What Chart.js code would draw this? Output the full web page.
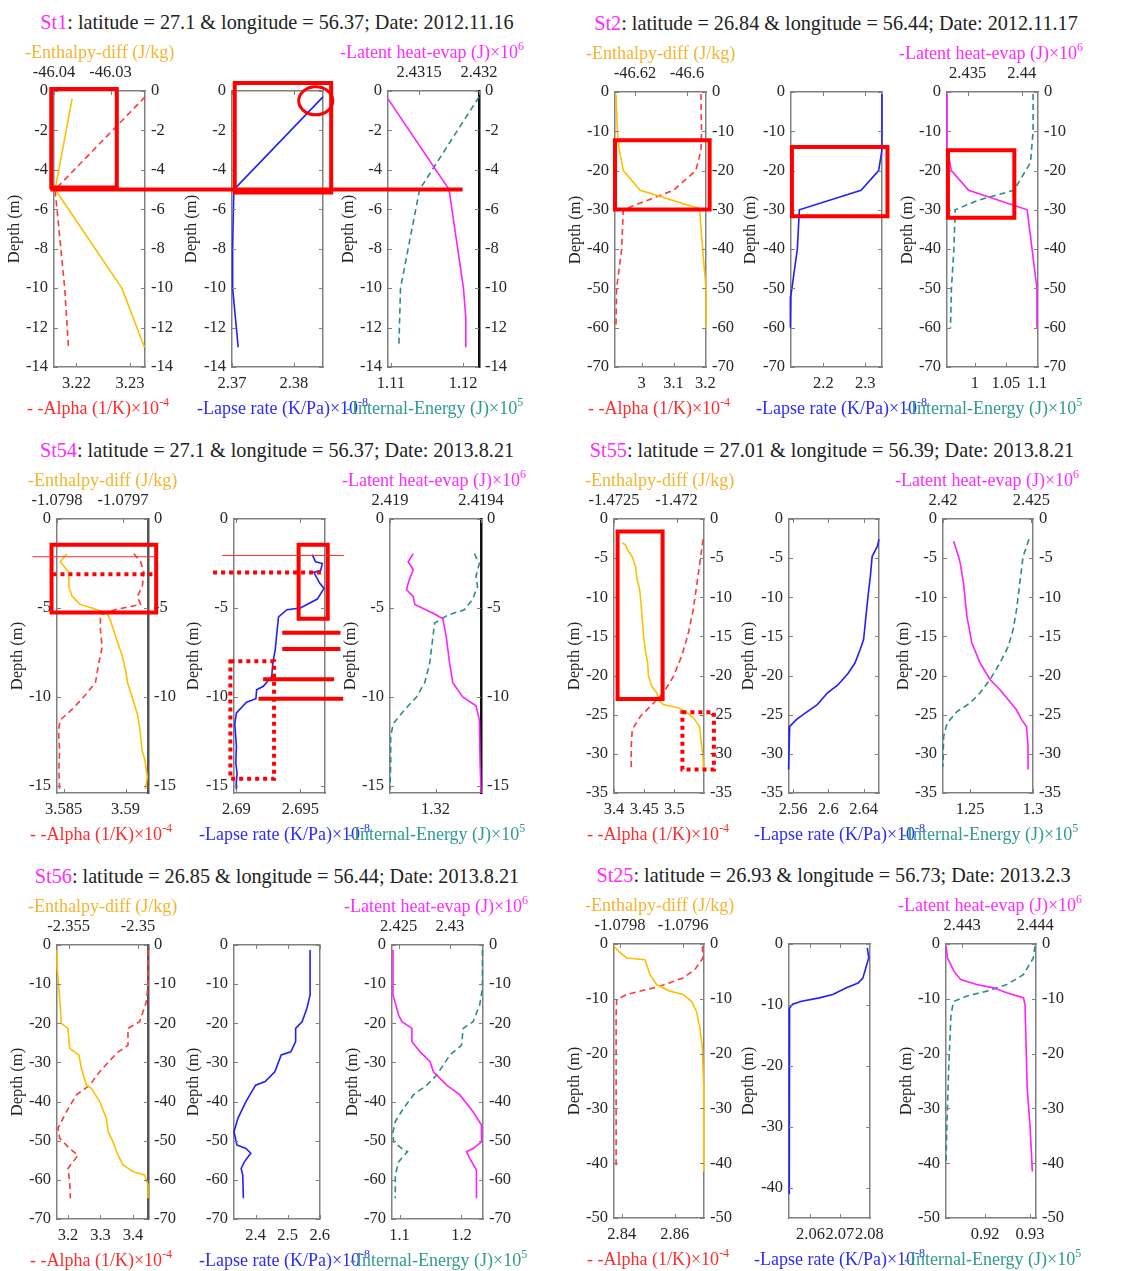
<!DOCTYPE html>
<html><head><meta charset="utf-8">
<script src="https://cdn.jsdelivr.net/npm/chart.js"></script>
<title>Station profiles</title>
<style>
body { margin: 0; width: 1129px; height: 1271px; position: relative; overflow: hidden; background: #fff;
  font-family: "Liberation Serif", "Times New Roman", serif; }
canvas { position: absolute; }
.t { position: absolute; white-space: nowrap; font-size: 18px; line-height: 20px; }
.sup { font-size: 12px; line-height: 0; position: relative; top: -8px; }
.title { font-size: 20.2px; line-height: 22px; color: #222; transform: translateX(-50%); }
.depth { position: absolute; white-space: nowrap; font-size: 16.5px; line-height: 18px; color: #222;
  transform: translate(-50%, -50%) rotate(-90deg); }
</style>
</head>
<body>
<script>
// ---- data: [value, depth] pairs ----
// St1
const s1Enth = [[-46.0368,-0.4],[-46.0398,-5],[-46.0280,-10],[-46.0240,-13]];
const s1Alpha = [[3.2328,-0.3],[3.2160,-5],[3.2178,-10],[3.2185,-13]];
const s1Lapse = [[2.3847,-0.3],[2.3703,-5],[2.3701,-8],[2.3701,-10],[2.3710,-13]];
const s1Latent = [[2.43124,-0.4],[2.43175,-5],[2.43187,-10],[2.43189,-11.5],[2.43189,-13]];
const s1Internal = [[1.1222,-0.3],[1.11397,-5],[1.11133,-10],[1.1111,-13]];
// St2
const s2Enth = [[-46.6273,-0.5],[-46.6268,-10],[-46.626,-15],[-46.6245,-20],[-46.618,-25],[-46.5952,-29.7],[-46.594,-40],[-46.5927,-50],[-46.5927,-60]];
const s2Alpha = [[3.186,-0.5],[3.188,-10],[3.186,-15],[3.17,-20],[3.1,-25],[3.004,-28],[2.942,-30],[2.937,-40],[2.921,-50],[2.919,-60]];
const s2Lapse = [[2.340,-0.5],[2.340,-10],[2.3395,-15],[2.332,-20],[2.29,-25],[2.1425,-30],[2.1376,-40],[2.122,-52],[2.121,-60]];
const s2Latent = [[2.4331,-0.5],[2.4331,-14],[2.4335,-20],[2.4351,-25],[2.4405,-30],[2.4414,-50],[2.4414,-60]];
const s2Internal = [[1.0937,-0.5],[1.0937,-10],[1.0895,-18],[1.063,-25],[1.0047,-27.6],[0.9685,-30],[0.9665,-40],[0.9625,-50],[0.961,-60]];
// St54
const s54Enth = [[-1.079785,-1.95],[-1.079795,-2.4],[-1.079782,-3.0],[-1.079782,-3.8],[-1.079777,-4.35],[-1.079765,-4.8],[-1.079747,-5.0],[-1.079724,-5.3],[-1.079719,-5.7],[-1.079711,-6.6],[-1.079701,-7.7],[-1.079696,-8.5],[-1.079693,-9.2],[-1.079686,-10.0],[-1.079678,-11.0],[-1.079674,-11.9],[-1.079671,-13.0],[-1.079667,-13.5],[-1.079663,-14.5],[-1.079666,-15.2]];
const s54Alpha = [[3.59067,-1.95],[3.59122,-2.4],[3.59148,-3.0],[3.59135,-3.8],[3.59095,-4.35],[3.59122,-4.8],[3.58914,-5.1],[3.58797,-5.4],[3.58797,-6.2],[3.58811,-7.2],[3.58784,-8.1],[3.58757,-9.2],[3.58662,-10.0],[3.58568,-10.7],[3.58473,-11.3],[3.58459,-11.9],[3.58468,-13.0],[3.58462,-14.1],[3.58468,-15.2]];
const s54Lapse = [[2.69592,-2.0],[2.69618,-2.4],[2.69671,-2.5],[2.69658,-2.9],[2.69605,-3.0],[2.6965,-3.6],[2.69684,-3.9],[2.69632,-4.5],[2.695,-5.0],[2.69395,-5.1],[2.69329,-5.5],[2.69316,-6.4],[2.69303,-7.35],[2.69284,-8.1],[2.69276,-8.85],[2.6921,-9.4],[2.69158,-9.6],[2.69152,-10.1],[2.69079,-10.3],[2.69,-10.9],[2.68987,-11.5],[2.69,-12.8],[2.68995,-13.7],[2.69005,-14.3],[2.68998,-14.9],[2.69,-15.2]];
const s54Latent = [[2.419102,-1.95],[2.41908,-2.4],[2.419102,-2.85],[2.41908,-3.6],[2.419073,-3.98],[2.419102,-4.35],[2.419109,-4.8],[2.419189,-5.3],[2.419232,-5.6],[2.419247,-6.6],[2.419262,-8.1],[2.419276,-9.2],[2.41932,-10.0],[2.419378,-10.5],[2.419393,-11.3],[2.419396,-13.7],[2.4194,-15.4]];
const s54Internal = [[1.32555,-1.95],[1.32626,-2.5],[1.32579,-3.2],[1.3260,-3.8],[1.32531,-4.5],[1.32413,-5.1],[1.32177,-5.4],[1.31988,-5.85],[1.31964,-6.6],[1.31917,-8.1],[1.31846,-9.2],[1.31729,-10.0],[1.31563,-10.7],[1.31397,-11.5],[1.3136,-12.2],[1.3136,-13.7],[1.3135,-15.2]];
// St55
const s55Enth = [[-1.472434,-3.07],[-1.472408,-3.3],[-1.472394,-3.9],[-1.472355,-4.8],[-1.472329,-6.0],[-1.472315,-7.75],[-1.472295,-9.0],[-1.472284,-10.7],[-1.472276,-12.4],[-1.472263,-15.0],[-1.47225,-16.7],[-1.472231,-18.4],[-1.472224,-20.1],[-1.472197,-21.4],[-1.472157,-22.2],[-1.472145,-23.1],[-1.472105,-23.7],[-1.471987,-24.1],[-1.471908,-24.8],[-1.471855,-25.6],[-1.471815,-26.5],[-1.471802,-28.6],[-1.471789,-30.3],[-1.471784,-32.0]];
const s55Alpha = [[3.5475,-2.6],[3.5421,-5.6],[3.5367,-8.6],[3.5311,-11.6],[3.523,-14.6],[3.5121,-17.5],[3.4984,-20.1],[3.482,-22.2],[3.4656,-23.5],[3.4438,-25.2],[3.4302,-26.9],[3.4285,-29.0],[3.4285,-32.0]];
const s55Lapse = [[2.6575,-2.6],[2.6556,-3.5],[2.6497,-4.8],[2.6477,-7.3],[2.645,-9.9],[2.6427,-12.4],[2.64,-15.4],[2.636,-16.7],[2.6302,-18.4],[2.6225,-19.7],[2.6108,-21.2],[2.5991,-22.2],[2.5874,-23.7],[2.5737,-24.8],[2.564,-25.6],[2.5561,-26.5],[2.5555,-29.0],[2.5548,-32.0]];
const s55Latent = [[2.4206,-2.85],[2.42088,-4.8],[2.42097,-5.6],[2.42116,-8.2],[2.42135,-12.4],[2.42163,-15.8],[2.4221,-18.4],[2.42266,-20.5],[2.42322,-21.8],[2.42369,-23.1],[2.42416,-24.4],[2.42444,-25.6],[2.42472,-26.5],[2.42481,-29.0],[2.42481,-32.0]];
const s55Internal = [[1.2968,-2.6],[1.2921,-4.8],[1.2895,-8.2],[1.2869,-11.6],[1.2842,-14.1],[1.2803,-16.3],[1.2737,-18.4],[1.2658,-20.5],[1.2579,-22.2],[1.25,-23.5],[1.2395,-24.6],[1.2316,-26.1],[1.2289,-27.8],[1.2284,-31.6]];
// St56
const s56Enth = [[-2.35584,-1.3],[-2.35584,-5.1],[-2.3557,-11.1],[-2.35553,-20.0],[-2.35505,-21.3],[-2.35493,-26.4],[-2.35426,-28.1],[-2.35408,-31.5],[-2.35372,-35.8],[-2.35336,-36.6],[-2.35276,-40.0],[-2.35228,-44.3],[-2.35216,-47.7],[-2.3518,-50.3],[-2.35144,-53.7],[-2.35108,-56.2],[-2.35036,-57.9],[-2.34952,-58.8],[-2.34928,-61.3],[-2.34928,-64.7]];
const s56Alpha = [[3.4462,-1.3],[3.4462,-10.2],[3.4412,-14.5],[3.4206,-19.6],[3.3846,-21.3],[3.3846,-25.6],[3.3489,-27.7],[3.2975,-32.4],[3.2668,-35.8],[3.2258,-38.3],[3.1951,-42.6],[3.1692,-46.8],[3.1745,-49.4],[3.2052,-52.0],[3.2308,-53.7],[3.2,-57.1],[3.2052,-60.5],[3.2074,-64.7]];
const s56Lapse = [[2.57,-1.3],[2.57,-12.8],[2.56,-16.2],[2.545,-19.6],[2.525,-21.3],[2.525,-24.7],[2.51,-27.3],[2.48,-28.1],[2.46,-32.4],[2.43,-34.9],[2.4,-35.8],[2.37,-40.0],[2.3448,-44.3],[2.3327,-47.7],[2.3417,-51.1],[2.37,-52.0],[2.385,-53.2],[2.3649,-55.4],[2.355,-57.1],[2.36,-58.8],[2.3619,-64.7]];
const s56Latent = [[2.42446,-1.3],[2.42446,-12.8],[2.425,-17.9],[2.42533,-19.6],[2.4263,-21.3],[2.4263,-24.7],[2.4271,-27.3],[2.42807,-29.8],[2.42839,-32.4],[2.42968,-35.8],[2.43097,-38.3],[2.43225,-42.6],[2.43307,-46.0],[2.43307,-50.3],[2.43225,-52.0],[2.43162,-52.8],[2.43193,-54.5],[2.43258,-57.5],[2.43258,-64.7]];
const s56Internal = [[1.2338,-1.3],[1.2338,-11.1],[1.2295,-15.3],[1.2188,-19.6],[1.2027,-21.3],[1.2002,-25.6],[1.1814,-28.1],[1.1706,-30.7],[1.16,-33.2],[1.144,-35.8],[1.1225,-38.3],[1.1064,-41.7],[1.0931,-45.1],[1.0894,-47.7],[1.0904,-50.3],[1.1039,-52.0],[1.1128,-52.8],[1.0984,-55.4],[1.0931,-58.8],[1.0931,-64.7]];
// St25
const s25Enth = [[-1.079819,-0.4],[-1.079805,-1.3],[-1.079779,-2.55],[-1.079721,-2.86],[-1.079705,-5.6],[-1.079684,-7.4],[-1.079642,-8.6],[-1.0796,-9.2],[-1.079573,-10.5],[-1.079558,-12.3],[-1.079547,-15.3],[-1.079539,-19.0],[-1.079535,-26.3],[-1.079535,-41.5]];
const s25Alpha = [[2.8704,-0.4],[2.8706,-2.55],[2.8675,-4.7],[2.8631,-6.2],[2.8544,-7.7],[2.8419,-9.2],[2.8381,-10.2],[2.8379,-12.9],[2.8379,-40.9]];
const s25Lapse = [[2.0793,-0.65],[2.0798,-2.3],[2.0788,-3.9],[2.0778,-5.6],[2.0762,-6.4],[2.0722,-7.2],[2.0676,-8.3],[2.063,-8.85],[2.057,-9.4],[2.0539,-9.9],[2.0529,-10.5],[2.0529,-23.6],[2.0527,-41.1]];
const s25Latent = [[2.44278,-0.4],[2.4428,-2.55],[2.44289,-5.0],[2.44298,-6.5],[2.4432,-7.4],[2.44343,-8.0],[2.44361,-8.9],[2.44384,-9.85],[2.44386,-11.1],[2.44389,-26.3],[2.44393,-33.6],[2.44396,-41.5]];
const s25Internal = [[0.93111,-0.4],[0.93073,-2.55],[0.92851,-5.6],[0.92482,-7.4],[0.92038,-8.6],[0.91593,-9.5],[0.91296,-10.5],[0.91238,-12.9],[0.91184,-23.2],[0.9115,-32.4],[0.91127,-39.7]];

// ---- axis ranges [min, max] and tick values ----
const s1DepthAx = [-14, 0], s1DepthTk = [0, -2, -4, -6, -8, -10, -12, -14];
const s1EnthAx = [-46.04, -46.0239], s1EnthTk = [-46.04, -46.03];
const s1AlphaAx = [3.2158, 3.2328], s1AlphaTk = [3.22, 3.23];
const s1LapseAx = [2.37, 2.3847], s1LapseTk = [2.37, 2.38];
const s1LatentAx = [2.43124, 2.432], s1LatentTk = [2.4315, 2.432];
const s1InternalAx = [1.1096, 1.1222], s1InternalTk = [1.11, 1.12];

const s2DepthAx = [-70, 0], s2DepthTk = [0, -10, -20, -30, -40, -50, -60, -70];
const s2EnthAx = [-46.6277, -46.5927], s2EnthTk = [-46.62, -46.6];
const s2AlphaAx = [2.916, 3.202], s2AlphaTk = [3, 3.1, 3.2];
const s2LapseAx = [2.1225, 2.34], s2LapseTk = [2.2, 2.3];
const s2LatentAx = [2.4331, 2.4415], s2LatentTk = [2.435, 2.44];
const s2InternalAx = [0.9554, 1.1016], s2InternalTk = [1, 1.05, 1.1];

const s54DepthAx = [-15.4, 0], s54DepthTk = [0, -5, -10, -15];
const s54EnthAx = [-1.0798, -1.079662], s54EnthTk = [-1.0798, -1.0797];
const s54AlphaAx = [3.58447, 3.59181], s54AlphaTk = [3.585, 3.59];
const s54LapseAx = [2.68981, 2.69692], s54LapseTk = [2.69, 2.695];
const s54LatentAx = [2.419, 2.4194], s54LatentTk = [2.419, 2.4194];
const s54InternalAx = [1.3135, 1.3265], s54InternalTk = [1.32];

const s55DepthAx = [-35, 0], s55DepthTk = [0, -5, -10, -15, -20, -25, -30, -35];
const s55EnthAx = [-1.4725, -1.47178], s55EnthTk = [-1.4725, -1.472];
const s55AlphaAx = [3.4, 3.549], s55AlphaTk = [3.4, 3.45, 3.5];
const s55LapseAx = [2.5553, 2.6575], s55LapseTk = [2.56, 2.6, 2.64];
const s55LatentAx = [2.42, 2.42509], s55LatentTk = [2.42, 2.425];
const s55InternalAx = [1.2284, 1.3], s55InternalTk = [1.25, 1.3];

const s56DepthAx = [-70, 0], s56DepthTk = [0, -10, -20, -30, -40, -50, -60, -70];
const s56EnthAx = [-2.35584, -2.34928], s56EnthTk = [-2.355, -2.35];
const s56AlphaAx = [3.1662, 3.4462], s56AlphaTk = [3.2, 3.3, 3.4];
const s56LapseAx = [2.3327, 2.6], s56LapseTk = [2.4, 2.5, 2.6];
const s56LatentAx = [2.42436, 2.43322], s56LatentTk = [2.425, 2.43];
const s56InternalAx = [1.0878, 1.2348], s56InternalTk = [1.1, 1.2];

const s25DepthAx = [-50, 0], s25DepthTk = [0, -10, -20, -30, -40, -50];
const s25LapseDepthAx = [-45, 0], s25LapseDepthTk = [0, -10, -20, -30, -40];
const s25EnthAx = [-1.079819, -1.079534], s25EnthTk = [-1.0798, -1.0796];
const s25AlphaAx = [2.8371, 2.871], s25AlphaTk = [2.84, 2.86];
const s25LapseAx = [2.0527, 2.0803], s25LapseTk = [2.06, 2.07, 2.08];
const s25LatentAx = [2.44278, 2.44401], s25LatentTk = [2.443, 2.444];
const s25InternalAx = [0.91127, 0.93133], s25InternalTk = [0.92, 0.93];

// ---- red highlight marks (panel, fraction of panel width, depth) ----
const s1Notes = [
  {k: 'rect', p: 0, f: [-0.03, 0.69], d: [0.1, -4.9]},
  {k: 'rect', p: 1, f: [0.03, 1.09], d: [0.4, -5.15]},
  {k: 'ring', p: 1, f: 0.92, d: -0.5, rx: 17, ry: 14, lw: 3},
  {k: 'line', p: 0, f: [-0.04, 4.49], d: -5.0}
];
const s2Notes = [
  {k: 'rect', p: 0, f: [0, 1.04], d: [-12.3, -29.9]},
  {k: 'rect', p: 1, f: [0.01, 1.06], d: [-14, -31.6]},
  {k: 'rect', p: 2, f: [0.01, 0.74], d: [-14.8, -32]}
];
const s54Notes = [
  {k: 'rect', p: 0, f: [-0.06, 1.09], d: [-1.45, -5.25]},
  {k: 'line', p: 0, f: [-0.27, 1.07], d: -2.12, lw: 1},
  {k: 'line', p: 0, f: [-0.05, 1.11], d: -3.1, dot: true},
  {k: 'rect', p: 1, f: [0.71, 1.03], d: [-1.45, -5.6]},
  {k: 'line', p: 1, f: [-0.13, 1.21], d: -2.05, lw: 1},
  {k: 'line', p: 1, f: [-0.23, 0.96], d: -3.0, dot: true},
  {k: 'line', p: 1, f: [0.53, 1.17], d: -6.4},
  {k: 'line', p: 1, f: [0.53, 1.17], d: -7.3},
  {k: 'line', p: 1, f: [0.32, 1.10], d: -9.0},
  {k: 'line', p: 1, f: [0.27, 1.20], d: -10.1},
  {k: 'rect', p: 1, f: [-0.04, 0.44], d: [-8.0, -14.6], dot: true}
];
const s55Notes = [
  {k: 'rect', p: 0, f: [0.04, 0.54], d: [-1.6, -23.0]},
  {k: 'rect', p: 0, f: [0.76, 1.11], d: [-24.7, -32], dot: true}
];

const stations = [
  {name: 'St1', info: ': latitude = 27.1 &amp; longitude = 56.37; Date: 2012.11.16',
   depth: [s1DepthAx, s1DepthTk], enth: [s1Enth, s1EnthAx, s1EnthTk], alpha: [s1Alpha, s1AlphaAx, s1AlphaTk],
   lapse: [s1Lapse, s1LapseAx, s1LapseTk], latent: [s1Latent, s1LatentAx, s1LatentTk], internal: [s1Internal, s1InternalAx, s1InternalTk],
   notes: s1Notes, dark: [null, null, '#111']},
  {name: 'St2', info: ': latitude = 26.84 &amp; longitude = 56.44; Date: 2012.11.17',
   depth: [s2DepthAx, s2DepthTk], enth: [s2Enth, s2EnthAx, s2EnthTk], alpha: [s2Alpha, s2AlphaAx, s2AlphaTk],
   lapse: [s2Lapse, s2LapseAx, s2LapseTk], latent: [s2Latent, s2LatentAx, s2LatentTk], internal: [s2Internal, s2InternalAx, s2InternalTk],
   notes: s2Notes, dark: [null, null, null]},
  {name: 'St54', info: ': latitude = 27.1 &amp; longitude = 56.37; Date: 2013.8.21',
   depth: [s54DepthAx, s54DepthTk], enth: [s54Enth, s54EnthAx, s54EnthTk], alpha: [s54Alpha, s54AlphaAx, s54AlphaTk],
   lapse: [s54Lapse, s54LapseAx, s54LapseTk], latent: [s54Latent, s54LatentAx, s54LatentTk], internal: [s54Internal, s54InternalAx, s54InternalTk],
   notes: s54Notes, dark: ['#555', null, '#111']},
  {name: 'St55', info: ': latitude = 27.01 &amp; longitude = 56.39; Date: 2013.8.21',
   depth: [s55DepthAx, s55DepthTk], enth: [s55Enth, s55EnthAx, s55EnthTk], alpha: [s55Alpha, s55AlphaAx, s55AlphaTk],
   lapse: [s55Lapse, s55LapseAx, s55LapseTk], latent: [s55Latent, s55LatentAx, s55LatentTk], internal: [s55Internal, s55InternalAx, s55InternalTk],
   notes: s55Notes, dark: [null, null, null]},
  {name: 'St56', info: ': latitude = 26.85 &amp; longitude = 56.44; Date: 2013.8.21',
   depth: [s56DepthAx, s56DepthTk], enth: [s56Enth, s56EnthAx, s56EnthTk], alpha: [s56Alpha, s56AlphaAx, s56AlphaTk],
   lapse: [s56Lapse, s56LapseAx, s56LapseTk], latent: [s56Latent, s56LatentAx, s56LatentTk], internal: [s56Internal, s56InternalAx, s56InternalTk],
   notes: [], dark: ['#555', null, null]},
  {name: 'St25', info: ': latitude = 26.93 &amp; longitude = 56.73; Date: 2013.2.3',
   depth: [s25DepthAx, s25DepthTk], lapseDepth: [s25LapseDepthAx, s25LapseDepthTk],
   enth: [s25Enth, s25EnthAx, s25EnthTk], alpha: [s25Alpha, s25AlphaAx, s25AlphaTk],
   lapse: [s25Lapse, s25LapseAx, s25LapseTk], latent: [s25Latent, s25LatentAx, s25LatentTk], internal: [s25Internal, s25InternalAx, s25InternalTk],
   notes: [], dark: [null, null, null]}
];

// where each station block sits on the page (plot boxes, title centre)
const layout = [
  {ox: 0, oy: 0, lefts: [54, 232, 388], w: 91, top: 91, h: 276, tx: 277},
  {ox: 560, oy: 0, lefts: [55, 231, 387], w: 91, top: 92, h: 275, tx: 276},
  {ox: 0, oy: 430, lefts: [57, 234, 390], w: 91, top: 89, h: 274, tx: 277},
  {ox: 560, oy: 430, lefts: [54, 229, 383], w: 90, top: 89, h: 274, tx: 272},
  {ox: 0, oy: 855, lefts: [57, 234, 392], w: 91, top: 90, h: 274, tx: 277},
  {ox: 560, oy: 855, lefts: [54, 229, 386], w: 90, top: 89, h: 274, tx: 273.5}
];

const ORANGE = '#FFBF00', RED = '#FF3838', BLUE = '#2020FF', MAGENTA = '#FF20FF', TEAL = '#2A8C8C';
const GRAY = '#808080', TICK = '#262626';
const SERIF = "'Liberation Serif', 'Times New Roman', serif";
Chart.defaults.font.family = SERIF;
const FONT = {family: SERIF, size: 16.5};

function xAxis(pos, ax, tk, size, show) {
  return {
    type: 'linear', axis: 'x', position: pos, min: ax[0], max: ax[1],
    afterBuildTicks: s => { s.ticks = tk.map(v => ({value: v})); },
    afterFit: s => { s.height = size; },
    grid: {display: false, drawTicks: false},
    border: {display: true, color: GRAY, width: 1.5},
    ticks: {display: show, autoSkip: false, maxRotation: 0, minRotation: 0,
      padding: pos === 'top' ? 8 : 7, font: FONT, color: TICK, callback: v => String(v)}
  };
}
function yAxis(pos, ax, tk, size, show, dark) {
  return {
    type: 'linear', axis: 'y', position: pos, min: ax[0], max: ax[1],
    afterBuildTicks: s => { s.ticks = tk.map(v => ({value: v})); },
    afterFit: s => { s.width = size; },
    grid: {display: false, drawTicks: false},
    border: {display: true, color: dark || GRAY, width: dark ? 2.5 : 1.5},
    ticks: {display: show, autoSkip: false, padding: 6, font: FONT, color: TICK, callback: v => String(v)}
  };
}

function line(series, axisId, color, dashed) {
  return {
    data: series.map(p => ({x: p[0], y: p[1]})), xAxisID: axisId, yAxisID: 'yl',
    showLine: true, borderColor: color, borderWidth: 1.6, borderDash: dashed ? [6, 4] : [],
    pointRadius: 0, tension: 0, fill: false, clip: 3
  };
}

function buildPanel(st, L, i) {
  const spec = [
    {top: st.enth, topC: ORANGE, bot: st.alpha, botC: RED, dash: true},
    {top: null, bot: st.lapse, botC: BLUE, dash: false},
    {top: st.latent, topC: MAGENTA, bot: st.internal, botC: TEAL, dash: true}
  ][i];
  const depth = (i === 1 && st.lapseDepth) ? st.lapseDepth : st.depth;
  const padL = 48, padR = i === 1 ? 12 : 48, padT = 34, padB = 34;
  const cv = document.createElement('canvas');
  cv.width = L.w + padL + padR;
  cv.height = L.h + padT + padB;
  cv.style.left = (L.ox + L.lefts[i] - padL) + 'px';
  cv.style.top = (L.oy + L.top - padT) + 'px';
  document.body.appendChild(cv);

  const datasets = [];
  if (spec.top) datasets.push(line(spec.top[0], 'xt', spec.topC, false));
  datasets.push(line(spec.bot[0], 'xb', spec.botC, spec.dash));

  const topAx = spec.top ? spec.top : spec.bot;
  const ticksIn = {
    id: 'ticksIn',
    afterDraw(c) {
      const ctx = c.ctx, a = c.chartArea, yl = c.scales.yl, xb = c.scales.xb, xt = c.scales.xt;
      ctx.save();
      ctx.strokeStyle = GRAY; ctx.lineWidth = 1;
      ctx.beginPath();
      depth[1].forEach(v => {
        const y = Math.round(yl.getPixelForValue(v)) + 0.5;
        ctx.moveTo(a.left, y); ctx.lineTo(a.left + 4, y);
        ctx.moveTo(a.right, y); ctx.lineTo(a.right - 4, y);
      });
      spec.bot[2].forEach(v => {
        const x = Math.round(xb.getPixelForValue(v)) + 0.5;
        ctx.moveTo(x, a.bottom); ctx.lineTo(x, a.bottom - 4);
      });
      topAx[2].forEach(v => {
        const x = Math.round(xt.getPixelForValue(v)) + 0.5;
        ctx.moveTo(x, a.top); ctx.lineTo(x, a.top + 4);
      });
      ctx.stroke();
      ctx.restore();
    }
  };

  return new Chart(cv, {
    type: 'scatter',
    data: {datasets},
    options: {
      responsive: false, animation: false, events: [],
      layout: {padding: 0},
      plugins: {legend: {display: false}, tooltip: {enabled: false}},
      scales: {
        xb: xAxis('bottom', spec.bot[1], spec.bot[2], padB, true),
        xt: xAxis('top', topAx[1], topAx[2], padT, !!spec.top),
        yl: yAxis('left', depth[0], depth[1], padL, true, null),
        yr: yAxis('right', depth[0], depth[1], padR, i !== 1, st.dark[i])
      }
    },
    plugins: [ticksIn]
  });
}

function text(html, cls, x, y, color) {
  const d = document.createElement('div');
  d.className = cls;
  d.innerHTML = html;
  d.style.left = x + 'px';
  d.style.top = y + 'px';
  if (color) d.style.color = color;
  document.body.appendChild(d);
  return d;
}

function buildLabels(st, L) {
  const topY = L.oy + L.top, botY = L.oy + L.top + L.h;
  text('<span style="color:#FF2BFF">' + st.name + '</span>' + st.info, 't title', L.ox + L.tx, topY - 80);
  text('-Enthalpy-diff (J/kg)', 't', L.ox + L.lefts[0] - 29, topY - 49, '#F5B32E');
  text('-Latent heat-evap (J)×10<span class="sup">6</span>', 't', L.ox + L.lefts[2] - 48, topY - 49, '#FF2BFF');
  text('- -Alpha (1/K)×10<span class="sup">-4</span>', 't', L.ox + L.lefts[0] - 27, botY + 31, '#FF2B2B');
  text('-Lapse rate (K/Pa)×10<span class="sup">-8</span>', 't', L.ox + L.lefts[1] - 35, botY + 31, '#2B2BFF');
  text('-Internal-Energy (J)×10<span class="sup">5</span>', 't', L.ox + L.lefts[2] - 42, botY + 31, '#2E9A90');
  const dx = [-40, -41, -40];
  for (let i = 0; i < 3; i++) {
    text('Depth (m)', 'depth', L.ox + L.lefts[i] + dx[i], topY + L.h / 2);
  }
}

function drawNotes() {
  const cv = document.createElement('canvas');
  cv.width = 1129; cv.height = 1271;
  cv.style.left = '0px'; cv.style.top = '0px'; cv.style.pointerEvents = 'none';
  document.body.appendChild(cv);
  const ctx = cv.getContext('2d');
  stations.forEach(st => {
    st.notes.forEach(n => {
      const ch = st.charts[n.p];
      const x0 = parseFloat(ch.canvas.style.left), y0 = parseFloat(ch.canvas.style.top);
      const a = ch.chartArea, ys = ch.scales.yl;
      const X = f => x0 + a.left + f * (a.right - a.left);
      const Y = d => y0 + ys.getPixelForValue(d);
      ctx.save();
      ctx.strokeStyle = n.lw === 1 ? '#FF3030' : '#FF0000';
      ctx.lineWidth = n.lw || 4;
      ctx.setLineDash(n.dot ? [4, 4] : []);
      ctx.beginPath();
      if (n.k === 'rect') ctx.rect(X(n.f[0]), Y(n.d[0]), X(n.f[1]) - X(n.f[0]), Y(n.d[1]) - Y(n.d[0]));
      else if (n.k === 'line') { ctx.moveTo(X(n.f[0]), Y(n.d)); ctx.lineTo(X(n.f[1]), Y(n.d)); }
      else if (n.k === 'ring') ctx.ellipse(X(n.f), Y(n.d), n.rx, n.ry, 0, 0, Math.PI * 2);
      ctx.stroke();
      ctx.restore();
    });
  });
}

stations.forEach((st, s) => {
  st.charts = [0, 1, 2].map(i => buildPanel(st, layout[s], i));
});
stations.forEach((st, s) => buildLabels(st, layout[s]));
drawNotes();
</script>
</body></html>
